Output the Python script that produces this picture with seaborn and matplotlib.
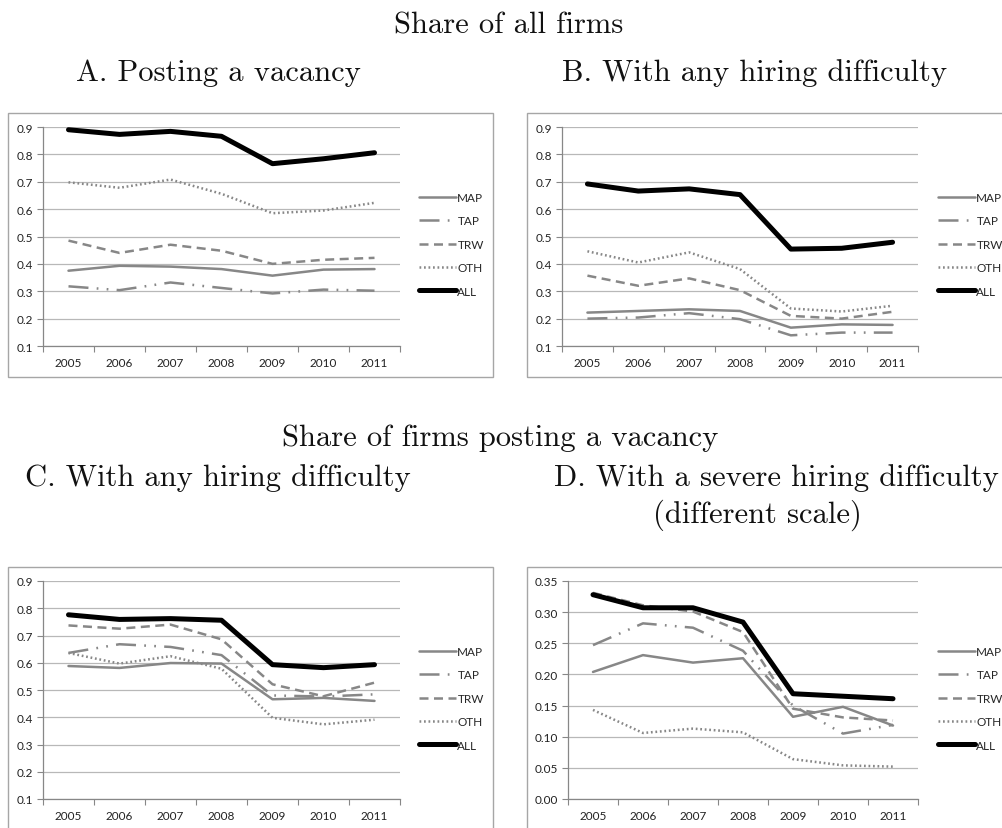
import seaborn as sns
import matplotlib.pyplot as plt
import pandas as pd
from matplotlib.lines import Line2D
from matplotlib.patches import Rectangle
from matplotlib.ticker import FormatStrFormatter, FixedLocator

years = [2005, 2006, 2007, 2008, 2009, 2010, 2011]
series_names = ["MAP", "TAP", "TRW", "OTH", "ALL"]

# A. Posting a vacancy (share of all firms)
a_map = [0.375, 0.393, 0.390, 0.381, 0.357, 0.379, 0.381]
a_tap = [0.318, 0.304, 0.332, 0.312, 0.292, 0.306, 0.302]
a_trw = [0.485, 0.440, 0.470, 0.448, 0.400, 0.415, 0.422]
a_oth = [0.698, 0.678, 0.708, 0.656, 0.585, 0.595, 0.623]
a_all = [0.890, 0.873, 0.884, 0.866, 0.766, 0.784, 0.806]

# B. With any hiring difficulty (share of all firms)
b_map = [0.222, 0.228, 0.234, 0.228, 0.167, 0.179, 0.177]
b_tap = [0.200, 0.204, 0.220, 0.198, 0.139, 0.149, 0.149]
b_trw = [0.357, 0.320, 0.347, 0.304, 0.210, 0.200, 0.225]
b_oth = [0.446, 0.405, 0.442, 0.381, 0.237, 0.226, 0.247]
b_all = [0.692, 0.666, 0.674, 0.653, 0.454, 0.457, 0.479]

# C. With any hiring difficulty (share of firms posting a vacancy)
c_map = [0.588, 0.581, 0.599, 0.597, 0.466, 0.471, 0.460]
c_tap = [0.636, 0.668, 0.658, 0.628, 0.480, 0.476, 0.484]
c_trw = [0.737, 0.725, 0.740, 0.686, 0.521, 0.477, 0.527]
c_oth = [0.636, 0.597, 0.624, 0.578, 0.398, 0.374, 0.391]
c_all = [0.776, 0.759, 0.762, 0.756, 0.593, 0.582, 0.593]

# D. With a severe hiring difficulty (share of firms posting a vacancy)
d_map = [0.204, 0.231, 0.219, 0.226, 0.132, 0.148, 0.118]
d_tap = [0.247, 0.282, 0.275, 0.238, 0.150, 0.105, 0.119]
d_trw = [0.331, 0.311, 0.301, 0.268, 0.145, 0.131, 0.126]
d_oth = [0.143, 0.106, 0.113, 0.107, 0.064, 0.054, 0.052]
d_all = [0.328, 0.307, 0.307, 0.284, 0.169, 0.165, 0.161]

GRAY = "#878787"
styles = {
    "MAP": dict(color=GRAY, lw=1.8, ls="-"),
    "TAP": dict(color=GRAY, lw=1.8, ls=(0, (8, 3.3, 0.7, 3.3, 0.7, 3.3))),
    "TRW": dict(color=GRAY, lw=1.8, ls=(0, (3.6, 2.2))),
    "OTH": dict(color=GRAY, lw=1.8, ls=(0, (0.7, 1.1))),
    "ALL": dict(color="black", lw=3.6, ls="-"),
}

sns.set_style("white")
plt.rcParams["font.family"] = ["Lato", "DejaVu Sans"]

W, H = 1003, 829
fig = plt.figure(figsize=(W / 100, H / 100), dpi=100)


def rect(x0, y0, x1, y1):
    return [x0 / W, 1 - y1 / H, (x1 - x0) / W, (y1 - y0) / H]


def panel(px, box, vals, ymin, ymax, ystep, fmt, leg_xy):
    bx0, by0, bx1, by1 = box
    fig.patches.append(Rectangle((bx0 / W, 1 - by1 / H), (bx1 - bx0) / W, (by1 - by0) / H,
                                 transform=fig.transFigure, fill=False,
                                 edgecolor="#a6a6a6", lw=1.0, zorder=0))
    ax = fig.add_axes(rect(*px))
    df = pd.DataFrame({"year": years})
    for name, v in zip(series_names, vals):
        df[name] = v
    for name in series_names:
        st = styles[name]
        sns.lineplot(data=df, x="year", y=name, ax=ax, color=st["color"],
                     lw=st["lw"], linestyle=st["ls"], zorder=3 if name == "ALL" else 2)
    ax.set_xlim(2004.5, 2011.5)
    ax.set_ylim(ymin, ymax)
    n = int(round((ymax - ymin) / ystep))
    ax.set_yticks([ymin + i * ystep for i in range(n + 1)])
    ax.yaxis.set_major_formatter(FormatStrFormatter(fmt))
    ax.set_xticks(years)
    ax.set_xticklabels([str(y) for y in years])
    ax.xaxis.set_minor_locator(FixedLocator([y - 0.5 for y in years] + [2011.5]))
    ax.tick_params(axis="x", which="major", length=0, labelsize=8.5, pad=8, colors="#222222")
    ax.tick_params(axis="x", which="minor", length=4, width=0.8, color=GRAY, direction="out", bottom=True)
    ax.tick_params(axis="y", which="major", length=4, width=0.8, color=GRAY, direction="out",
                   left=True, labelsize=8.5, labelcolor="#222222", pad=3)
    ax.grid(axis="y", color="#b8b8b8", lw=0.9)
    ax.grid(axis="x", visible=False)
    for s in ["top", "right"]:
        ax.spines[s].set_visible(False)
    for s in ["left", "bottom"]:
        ax.spines[s].set_color(GRAY)
        ax.spines[s].set_linewidth(0.9)
    ax.set_xlabel("")
    ax.set_ylabel("")
    ax.set_facecolor("none")
    handles = [Line2D([], [], color=styles[n]["color"], lw=styles[n]["lw"], ls=styles[n]["ls"])
               for n in series_names]
    ax.legend(handles, series_names, loc="upper left",
              bbox_to_anchor=(leg_xy[0] / W, 1 - leg_xy[1] / H), bbox_transform=fig.transFigure,
              frameon=False, fontsize=8.5, handlelength=3.1, handletextpad=0.15,
              labelspacing=1.05, borderpad=0, borderaxespad=0)
    return ax


panel((43, 128, 400, 347), (8, 114, 493, 378), [a_map, a_tap, a_trw, a_oth, a_all],
      0.1, 0.9, 0.1, "%.1f", (419, 193))
panel((562, 128, 918, 347), (527, 114, 1010, 378), [b_map, b_tap, b_trw, b_oth, b_all],
      0.1, 0.9, 0.1, "%.1f", (938, 193))
panel((43, 582, 400, 800), (8, 568, 493, 840), [c_map, c_tap, c_trw, c_oth, c_all],
      0.1, 0.9, 0.1, "%.1f", (419, 647))
panel((568, 582, 918, 800), (527, 568, 1010, 840), [d_map, d_tap, d_trw, d_oth, d_all],
      0.0, 0.35, 0.05, "%.2f", (938, 647))

tkw = dict(fontfamily="cmr10", fontsize=22, ha="center", va="baseline", color="#111111")
fig.text(509 / W, 1 - 34 / H, "Share of all firms", **tkw)
fig.text(218 / W, 1 - 81 / H, "A. Posting a vacancy", **tkw)
fig.text(755 / W, 1 - 81 / H, "B. With any hiring difficulty", **tkw)
fig.text(500 / W, 1 - 446 / H, "Share of firms posting a vacancy", **tkw)
fig.text(218 / W, 1 - 486 / H, "C. With any hiring difficulty", **tkw)
fig.text(776 / W, 1 - 486 / H, "D. With a severe hiring difficulty", **tkw)
fig.text(757 / W, 1 - 523 / H, "(different scale)", **tkw)

fig.savefig("out.png", dpi=100)
